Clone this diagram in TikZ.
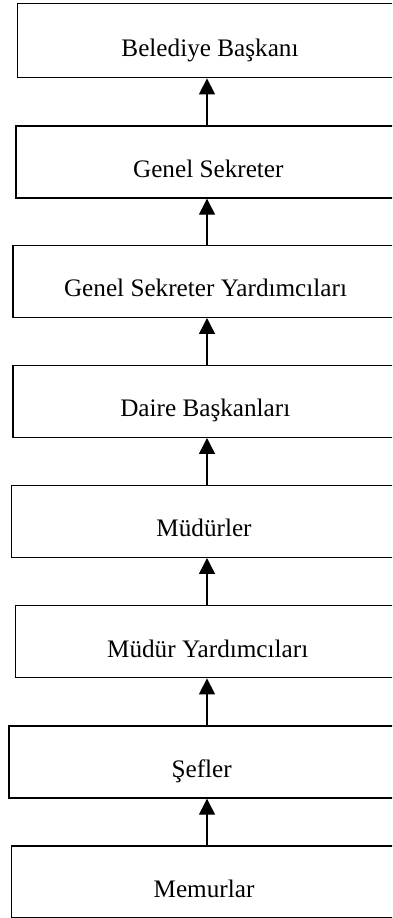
\documentclass[tikz,border=0pt]{standalone}
\usepackage{fontspec}
\setmainfont{Liberation Serif}
\usetikzlibrary{arrows.meta}

\tikzset{
    kutu/.style={draw, line width=0.7pt, minimum width=192.5pt, minimum height=36pt,
        inner sep=0pt, text height=15.5pt, text depth=0pt,
        font=\fontsize{12.6pt}{15pt}\selectfont},
    ok/.style={-{Triangle[length=8pt, width=8pt]}, line width=0.65pt}
}

\begin{document}
\begin{tikzpicture}[x=0.5pt, y=0.5pt]
    \useasboundingbox (0,0) rectangle (392,918);
    \clip (0,0) rectangle (392,918);

    % === KUTULAR (yukaridan asagiya) ===
    % sag kenarlar resmin disinda kaliyor
    \node[kutu, minimum height=37pt] (baskan) at (210, 877.3) {Belediye Başkanı};
    \node[kutu] (sekreter) at (208.3, 756)   {Genel Sekreter};
    \node[kutu] (yardimci) at (205.5, 636.7) {Genel Sekreter Yardımcıları};
    \node[kutu] (daire)    at (205.3, 516.7) {Daire Başkanları};
    \node[kutu] (mudur)    at (204, 396.7)   {Müdürler};
    \node[kutu] (mudyard)  at (207.7, 276.3) {Müdür Yardımcıları};
    \node[kutu] (sef)      at (201.7, 156)   {Şefler};
    \node[kutu] (memur)    at (204, 36)      {Memurlar};

    % Oklar: alttaki kutudan ustteki kutuya
    \coordinate (eksen) at (207, 0);
    \draw[ok] (eksen |- sekreter.north) -- (eksen |- baskan.south);
    \draw[ok] (eksen |- yardimci.north) -- (eksen |- sekreter.south);
    \draw[ok] (eksen |- daire.north)    -- (eksen |- yardimci.south);
    \draw[ok] (eksen |- mudur.north)    -- (eksen |- daire.south);
    \draw[ok] (eksen |- mudyard.north)  -- (eksen |- mudur.south);
    \draw[ok] (eksen |- sef.north)      -- (eksen |- mudyard.south);
    \draw[ok] (eksen |- memur.north)    -- (eksen |- sef.south);
\end{tikzpicture}
\end{document}
